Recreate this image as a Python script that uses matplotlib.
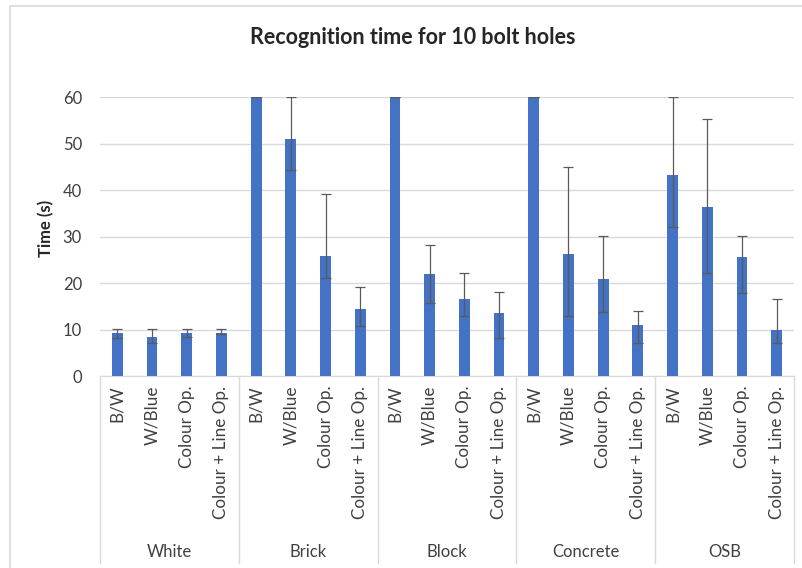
import numpy as np
import matplotlib.pyplot as plt
from matplotlib.transforms import blended_transform_factory

plt.rcParams['font.family'] = ['Lato', 'DejaVu Sans']

surfaces = ['White', 'Brick', 'Block', 'Concrete', 'OSB']
methods = ['B/W', 'W/Blue', 'Colour Op.', 'Colour + Line Op.']

# mean recognition time per surface, one entry per method
times = [
    [9.3, 8.3, 9.3, 9.3],
    [60, 50.9, 25.8, 14.5],
    [60, 21.9, 16.6, 13.6],
    [60, 26.2, 20.8, 11.0],
    [43.2, 36.4, 25.7, 10.0],
]
# error bar ends (low, high)
err_low = [
    [8.1, 7.0, 8.3, 9.0],
    [60, 44.2, 21.0, 10.8],
    [60, 15.8, 12.9, 8.1],
    [60, 12.9, 13.8, 7.0],
    [32.0, 22.1, 17.8, 7.0],
]
err_high = [
    [10.2, 10.2, 10.2, 10.2],
    [60, 60, 39.1, 19.1],
    [60, 28.1, 22.2, 18.1],
    [60, 45.0, 30.1, 14.0],
    [60, 55.2, 30.1, 16.5],
]

vals = np.array(times).ravel()
lo = np.array(err_low).ravel()
hi = np.array(err_high).ravel()
yerr = np.vstack([vals - lo, hi - vals])
labels = methods * len(surfaces)
x = np.arange(len(vals))

txt = '#404040'
fig = plt.figure(figsize=(8.02, 5.68), dpi=100)
ax = fig.add_axes([0.1247, 0.338, 0.8653, 0.4912])

ax.bar(x, vals, width=0.31, color='#4472C4', zorder=3)
ax.errorbar(x, vals, yerr=yerr, fmt='none', ecolor='#5a5a5a', elinewidth=0.9,
            capsize=3.5, capthick=0.9, zorder=4)

ax.set_xlim(-0.5, len(vals) - 0.5)
ax.set_ylim(0, 60)
ax.set_yticks(range(0, 61, 10))
ax.yaxis.grid(True, color='#d9d9d9', linewidth=1)
ax.set_axisbelow(True)
for s in ['top', 'right', 'left']:
    ax.spines[s].set_visible(False)
ax.spines['bottom'].set_color('#d9d9d9')
ax.tick_params(axis='y', length=0, pad=13, labelsize=12, labelcolor=txt)
ax.set_xticks(x)
ax.set_xticklabels(labels, rotation=90, fontsize=12.3, color=txt)
ax.tick_params(axis='x', length=0, pad=7)

fig.text(46 / 802, 1 - 228 / 568, 'Time (s)', rotation=90, ha='center', va='center',
         fontsize=12, fontweight='bold', color='#262626')
fig.text(413 / 802, 1 - 38 / 568, 'Recognition time for 10 bolt holes', ha='center',
         va='center', fontsize=15.5, fontweight='bold', color='#262626')

# group labels and separators below the category axis
tr = blended_transform_factory(ax.transData, ax.transAxes)
n = len(methods)
for i in range(len(surfaces) + 1):
    xb = i * n - 0.5
    ax.plot([xb, xb], [0, -0.67], transform=tr, color='#d9d9d9', lw=1, clip_on=False)
for i, name in enumerate(surfaces):
    xc = i * n + (n - 1) / 2
    ax.text(xc, -0.63, name, transform=tr, ha='center', va='center',
            fontsize=12, color=txt)

fig.patches.append(plt.Rectangle((0.012, -0.01), 0.99, 1.0, transform=fig.transFigure,
                                 fill=False, edgecolor='#d9d9d9', lw=1.2))

fig.savefig('out.png', dpi=100)
